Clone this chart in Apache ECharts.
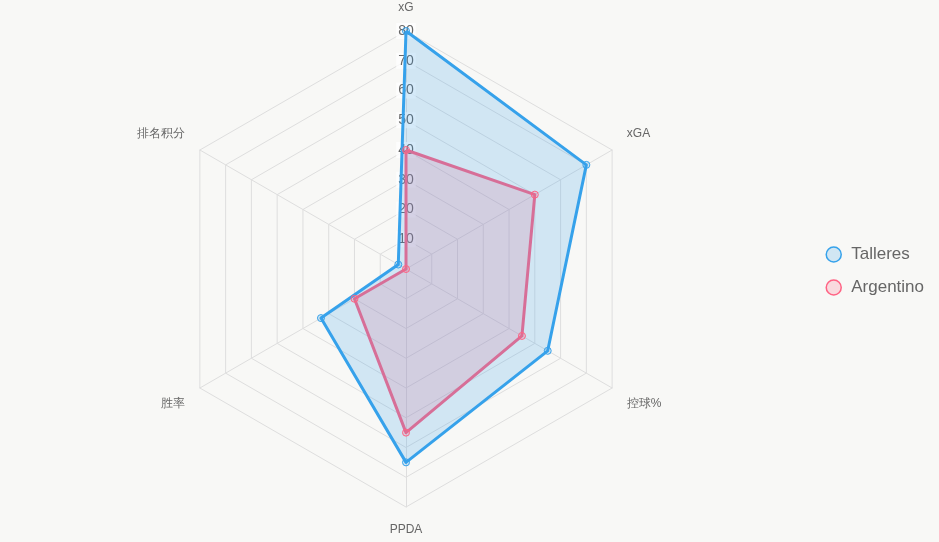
<!DOCTYPE html>
<html>
<head>
<meta charset="utf-8">
<script src="https://cdn.jsdelivr.net/npm/echarts@6/dist/echarts.min.js"></script>
<style>
  html, body { margin: 0; padding: 0; background: #f8f8f6; }
  #chart { width: 939px; height: 542px; }
</style>
</head>
<body>
<div id="chart"></div>
<script>
// data, axes listed clockwise from the top
const indicators = ['xG', 'xGA', '控球%', 'PPDA', '胜率', '排名积分']
const talleres = [80, 70, 55, 65, 33, 3]
const argentino = [40, 50, 45, 55, 20, 0]
const maxValue = 80

const blue = 'rgb(54, 162, 235)'
const blueFill = 'rgba(54, 162, 235, 0.2)'
const pink = 'rgb(255, 99, 132)'
const pinkFill = 'rgba(255, 99, 132, 0.2)'

// echarts radar goes counter-clockwise, so keep the first axis and flip the rest
const cw = arr => [arr[0]].concat(arr.slice(1).reverse())

// side labels sit a little higher (upper pair) or lower (lower pair)
const upperNames = ['xGA', '排名积分']
const lowerNames = ['控球%', '胜率']

const chart = echarts.init(document.getElementById('chart'))

const option = {
  backgroundColor: '#f8f8f6',
  animation: false,
  legend: {
    orient: 'vertical',
    right: 10,
    top: 'middle',
    icon: 'circle',
    itemWidth: 25,
    itemHeight: 15,
    itemGap: 16,
    textStyle: { color: '#666', fontSize: 17 },
    data: [
      { name: 'Talleres', itemStyle: { color: blueFill, borderColor: blue, borderWidth: 1.5 } },
      { name: 'Argentino', itemStyle: { color: pinkFill, borderColor: pink, borderWidth: 1.5 } }
    ]
  },
  radar: {
    center: [406, 269],
    radius: 238,
    startAngle: 90,
    splitNumber: 8,
    shape: 'polygon',
    nameGap: 17,
    axisName: {
      color: '#666',
      fontSize: 12,
      formatter: name => {
        if (upperNames.includes(name)) return '{up|' + name + '}'
        if (lowerNames.includes(name)) return '{down|' + name + '}'
        return name
      },
      rich: {
        up: { color: '#666', fontSize: 12, padding: [0, 0, 16, 0] },
        down: { color: '#666', fontSize: 12, padding: [14, 0, 0, 0] }
      }
    },
    splitArea: { show: false },
    splitLine: { lineStyle: { color: '#dedede', width: 1 } },
    axisLine: { lineStyle: { color: '#dedede', width: 1 } },
    axisLabel: { show: false },
    indicator: cw(indicators).map((name, i) => {
      const ind = { name: name, max: maxValue, min: 0 }
      if (i === 0) {
        ind.axisLabel = {
          show: true,
          showMinLabel: false,
          color: '#666',
          fontSize: 14,
          margin: 0,
          align: 'center',
          verticalAlign: 'middle',
          backgroundColor: 'rgba(255, 255, 255, 0.75)',
          padding: [1, 2]
        }
      }
      return ind
    })
  },
  series: [
    {
      type: 'radar',
      symbol: 'circle',
      symbolSize: 7,
      data: [
        {
          name: 'Argentino',
          value: cw(argentino),
          itemStyle: { color: pinkFill, borderColor: pink, borderWidth: 1 },
          lineStyle: { color: pink, width: 3 },
          areaStyle: { color: pinkFill, opacity: 1 }
        },
        {
          name: 'Talleres',
          value: cw(talleres),
          itemStyle: { color: blueFill, borderColor: blue, borderWidth: 1 },
          lineStyle: { color: blue, width: 3 },
          areaStyle: { color: blueFill, opacity: 1 }
        }
      ]
    }
  ]
}

chart.setOption(option)
</script>
</body>
</html>
